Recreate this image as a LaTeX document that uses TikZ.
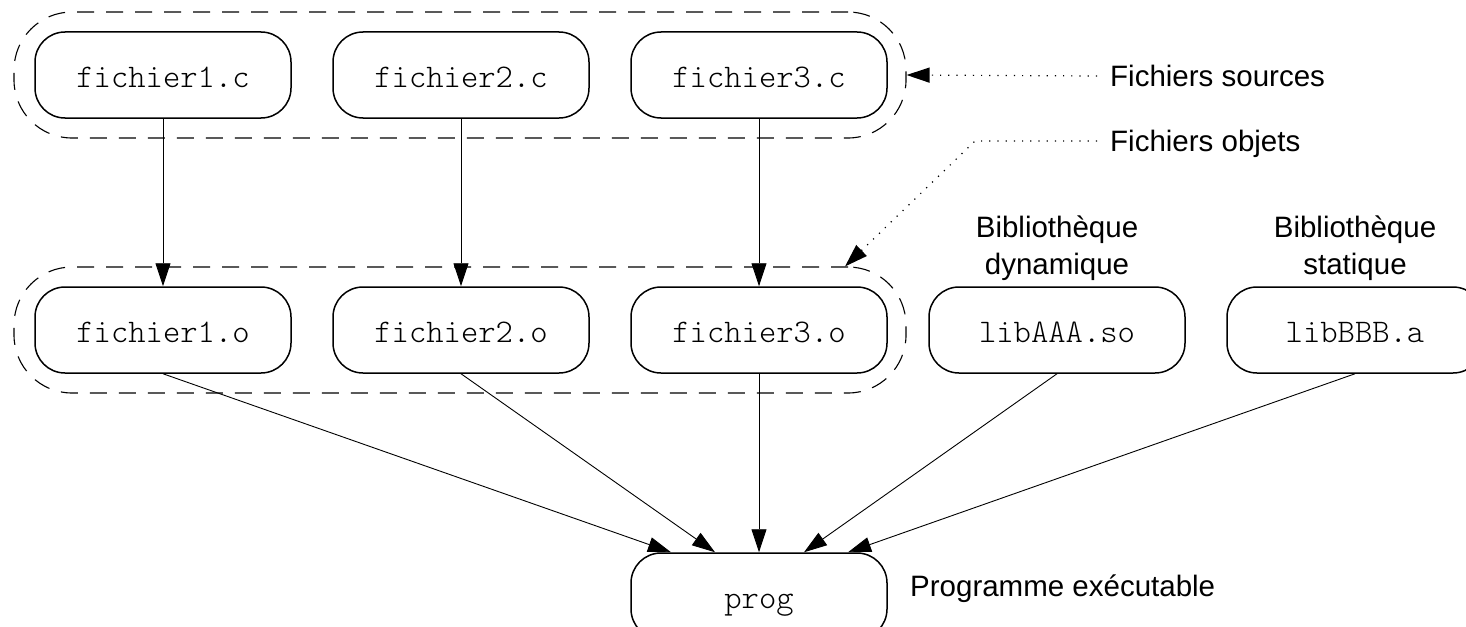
\documentclass[tikz,border=0pt]{standalone}
\usepackage{fontspec}
\setmainfont{Liberation Sans}
\newfontfamily\codefont{Latin Modern Mono Light}
\usetikzlibrary{arrows.meta}
\newcommand\codesize{\fontsize{33}{38}\selectfont}
\newcommand\lblsize{\fontsize{29.5}{37}\selectfont}
\begin{document}
\begin{tikzpicture}[x=1pt,y=-1pt,
  box/.style={draw, line width=1.5pt, rounded corners=30pt,
    minimum width=256pt, minimum height=86pt, inner sep=0pt,
    text height=24pt, text depth=0pt, font=\codesize\codefont},
  grp/.style={draw, line width=1.1pt, dash pattern=on 17pt off 12pt,
    rounded corners=58pt, minimum width=892pt, minimum height=126pt, inner sep=0pt},
  tip/.style={-{Triangle[length=23pt,width=15pt]}},
  flow/.style={tip, line width=0.9pt},
  lead/.style={tip, line width=1.2pt, dash pattern=on 1.2pt off 7pt},
  lbl/.style={font=\lblsize, inner sep=0pt}
]
\useasboundingbox (0,0) rectangle (1466,626);
\clip (0,0) rectangle (1466,626);

% groups of source and object files
\node[grp] (g1) at (460,75) {};
\node[grp] (g2) at (460,330) {};

% source files
\node[box] (s1) at (163,75) {fichier1.c};
\node[box] (s2) at (461,75) {fichier2.c};
\node[box] (s3) at (759,75) {fichier3.c};

% object files and libraries
\node[box] (o1) at (163,330) {fichier1.o};
\node[box] (o2) at (461,330) {fichier2.o};
\node[box] (o3) at (759,330) {fichier3.o};
\node[box] (la) at (1057,330) {libAAA.so};
\node[box] (lb) at (1355,330) {libBBB.a};

% executable
\node[box] (p) at (759,596) {prog};

% labels
\node[lbl, anchor=west, text height=21pt, text depth=0pt] (srcl) at (1110,76) {Fichiers sources};
\node[lbl, anchor=west, text height=21pt, text depth=0pt] (objl) at (1110,141) {Fichiers objets};
\node[lbl, align=center, anchor=south] (lal) at ([yshift=5pt]la.north) {Bibliothèque\\dynamique};
\node[lbl, align=center, anchor=south] (lbl) at ([yshift=5pt]lb.north) {Bibliothèque\\statique};
\node[lbl, anchor=base west] (pl) at (910,596) {Programme exécutable};

% compilation
\draw[flow] (s1.south) -- (o1.north);
\draw[flow] (s2.south) -- (o2.north);
\draw[flow] (s3.south) -- (o3.north);

% linking
\draw[flow] (o1.south) -- ([xshift=-88pt]p.north);
\draw[flow] (o2.south) -- ([xshift=-44pt]p.north);
\draw[flow] (o3.south) -- (p.north);
\draw[flow] (la.south) -- ([xshift=45pt]p.north);
\draw[flow] (lb.south) -- ([xshift=89pt]p.north);

% leaders from the labels
\coordinate (bend) at (975,141);
\draw[lead] ([xshift=-13pt]srcl.west) -- (g1.east);
\draw[lead] ([xshift=-13pt]objl.west) -- (bend) -- ([xshift=385pt]g2.north);
\end{tikzpicture}
\end{document}
